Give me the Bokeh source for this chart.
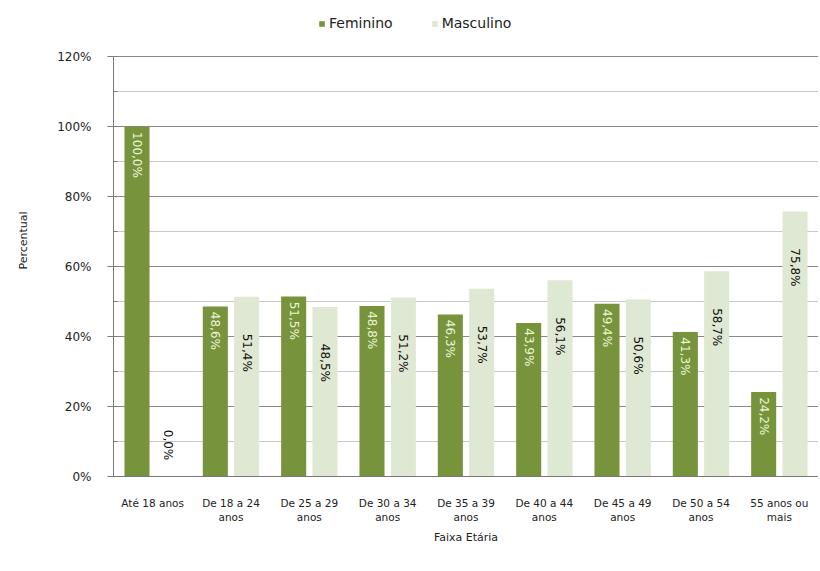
import math
from bokeh.plotting import figure
from bokeh.models import (ColumnDataSource, FactorRange, FixedTicker, PrintfTickFormatter,
                          Legend, LegendItem)
from bokeh.transform import dodge
from bokeh.core.properties import value
from bokeh.embed import file_html
from bokeh.resources import INLINE

categories = ["Até 18 anos", "De 18 a 24\nanos", "De 25 a 29\nanos", "De 30 a 34\nanos",
              "De 35 a 39\nanos", "De 40 a 44\nanos", "De 45 a 49\nanos", "De 50 a 54\nanos",
              "55 anos ou\nmais"]
feminino = [100.0, 48.6, 51.5, 48.8, 46.3, 43.9, 49.4, 41.3, 24.2]
masculino = [0.0, 51.4, 48.5, 51.2, 53.7, 56.1, 50.6, 58.7, 75.8]
y_ticks = [0, 20, 40, 60, 80, 100, 120]

FEM = "#77933c"
MASC = "#dfe8d2"
FONT = "DejaVu Sans"


def fmt(v):
    return f"{v:.1f}".replace(".", ",") + "%"


src = ColumnDataSource(dict(
    cat=categories,
    fem=feminino,
    masc=masculino,
    fem_lbl=[fmt(v) for v in feminino],
    masc_lbl=[fmt(v) for v in masculino],
    fem_y=[v - 1.5 for v in feminino],
    masc_y=[v - 16 if v > 20 else v + 9 for v in masculino],
))

p = figure(x_range=FactorRange(*categories), y_range=(0, 135), width=818, height=566,
           output_backend="svg", toolbar_location=None,
           min_border_left=113, min_border_right=0, min_border_top=4, min_border_bottom=90)

r_f = p.vbar(x=dodge("cat", -0.2, range=p.x_range), top="fem", width=0.32, source=src,
             fill_color=FEM, line_color=None)
r_m = p.vbar(x=dodge("cat", 0.2, range=p.x_range), top="masc", width=0.32, source=src,
             fill_color=MASC, line_color=None)

p.text(x=dodge("cat", -0.2, range=p.x_range), y="fem_y", text="fem_lbl", source=src,
       angle=-math.pi / 2, text_align="left", text_baseline="middle",
       text_font=value(FONT), text_font_size="12px", text_color="#eaf5d5")
p.text(x=dodge("cat", 0.2, range=p.x_range), y="masc_y", text="masc_lbl", source=src,
       angle=-math.pi / 2, text_align="center", text_baseline="middle",
       text_font=value(FONT), text_font_size="12px", text_color="#111111")

p.yaxis.ticker = FixedTicker(ticks=y_ticks, minor_ticks=list(range(0, 121, 10)))
p.yaxis.formatter = PrintfTickFormatter(format="%d%%")
p.yaxis.bounds = (0, 120)
p.yaxis.axis_label = "Percentual"
p.xaxis.axis_label = "Faixa Etária"
for ax in (p.xaxis, p.yaxis):
    ax.axis_label_text_font = FONT
    ax.axis_label_text_font_style = "normal"
    ax.axis_label_text_font_size = "11px"
    ax.axis_label_text_color = "#222222"
    ax.major_label_text_font = FONT
    ax.axis_line_color = "#7a7a7a"
    ax.major_label_text_color = "#222222"
p.xaxis.major_label_text_font_size = "10.5px"
p.yaxis.major_label_text_font_size = "12px"
p.xaxis.major_tick_line_color = None
p.xaxis.minor_tick_line_color = None
p.xaxis.major_label_standoff = 14
p.xaxis.axis_label_standoff = 5
p.yaxis.major_label_standoff = 16
p.yaxis.axis_label_standoff = 24
p.yaxis.major_tick_line_color = "#7a7a7a"
p.yaxis.minor_tick_line_color = "#7a7a7a"
p.yaxis.major_tick_out = 6
p.yaxis.major_tick_in = 0
p.yaxis.minor_tick_out = 0
p.yaxis.minor_tick_in = 4

p.xgrid.grid_line_color = None
p.ygrid.grid_line_color = "#8a8a8a"
p.ygrid.grid_line_width = 1
p.ygrid.minor_grid_line_color = "#c8c8c8"
p.outline_line_color = None
p.x_range.range_padding = 0.0
p.x_range.group_padding = 0.0

legend = Legend(items=[LegendItem(label="Feminino", renderers=[r_f]),
                       LegendItem(label="Masculino", renderers=[r_m])],
                orientation="horizontal", location=(205, 445),
                label_text_font=FONT, label_text_font_size="14px", label_text_color="#222222",
                glyph_width=7, glyph_height=7, spacing=38, label_standoff=4,
                border_line_color=None, background_fill_alpha=0, padding=2, margin=0)
p.add_layout(legend, "center")

open("out.html", "w").write(file_html(p, INLINE))
